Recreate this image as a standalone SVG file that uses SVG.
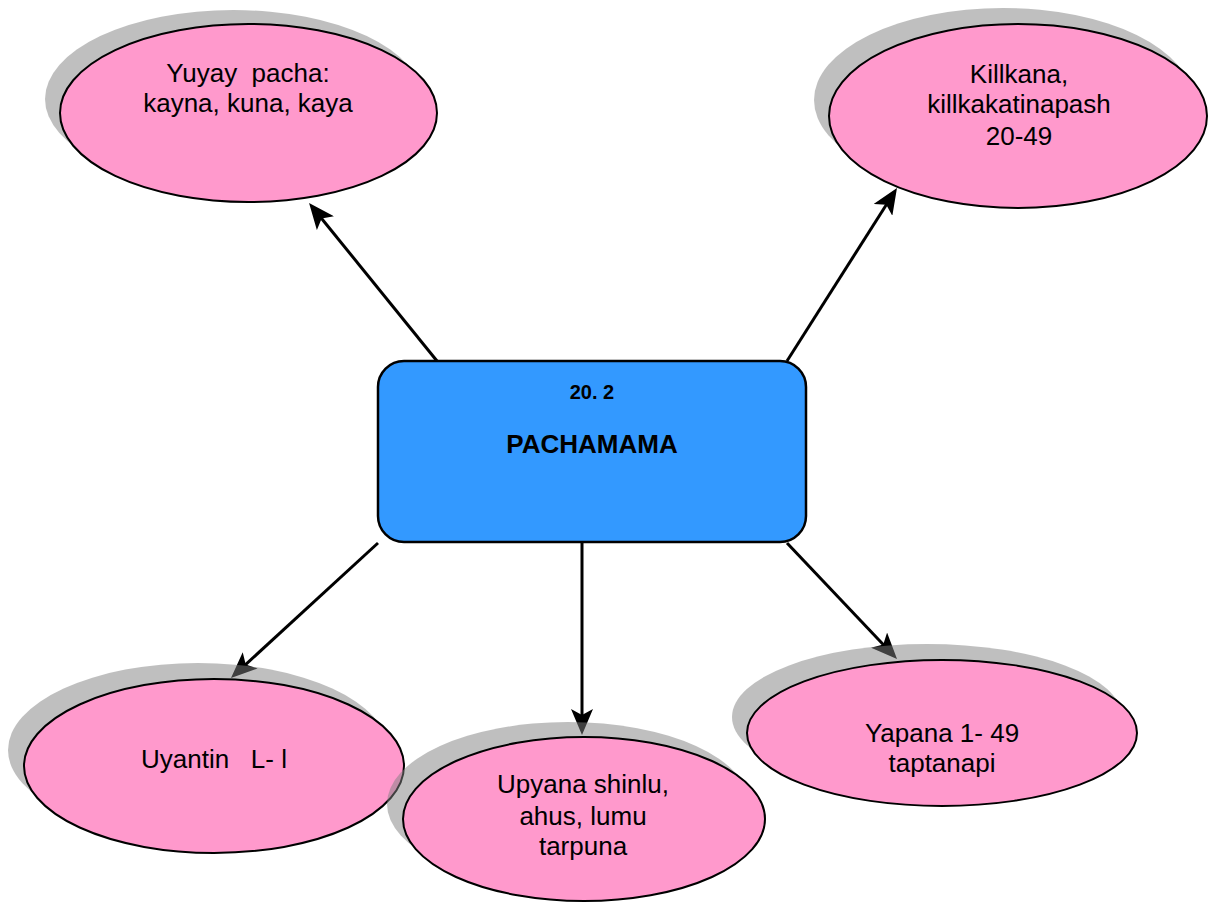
<svg xmlns="http://www.w3.org/2000/svg" width="1216" height="903" viewBox="0 0 1216 903">
<style>
.shadow{fill:#808080;fill-opacity:0.5;stroke:none}
.bubble{fill:#FF99CC;stroke:#000;stroke-width:2}
.lbl{font-family:"Liberation Sans",Arial,sans-serif;font-size:26px;fill:#000;text-anchor:middle}
.conn{stroke:#000;stroke-width:3;fill:none;marker-end:url(#ah)}
.box{fill:#3399FF;stroke:#000;stroke-width:2.5}
.bold{font-family:"Liberation Sans",Arial,sans-serif;font-weight:bold;fill:#000;text-anchor:middle}
</style>
<defs>
<marker id="ah" markerUnits="userSpaceOnUse" viewBox="0 -11 26 22" refX="18" refY="0" markerWidth="26" markerHeight="22" orient="auto">
<path d="M26,0 L0,-11 L6,0 L0,11 Z" fill="#000"/>
</marker>
</defs>
<rect width="1216" height="903" fill="#fff"/>
<g id="connectors">
<line class="conn" x1="437" y1="361" x2="314.1" y2="209.2"/>
<line class="conn" x1="787" y1="361" x2="892.7" y2="194.7"/>
<line class="conn" x1="378" y1="543" x2="236.9" y2="672.6"/>
<line class="conn" x1="582" y1="543" x2="582" y2="727"/>
<line class="conn" x1="787" y1="543" x2="891.5" y2="653.2"/>
</g>
<g id="center">
<rect class="box" x="378" y="361" width="428" height="181" rx="26" ry="26"/>
<text class="bold" x="592" y="399" font-size="20">20. 2</text>
<text class="bold" x="592" y="453" font-size="26">PACHAMAMA</text>
</g>
<g id="yuyay">
<ellipse class="shadow" cx="233.5" cy="99" rx="188.5" ry="89"/>
<ellipse class="bubble" cx="248.5" cy="113" rx="188.5" ry="89"/>
<text class="lbl" x="248" y="82" xml:space="preserve">Yuyay  pacha:</text>
<text class="lbl" x="248" y="112">kayna, kuna, kaya</text>
</g>
<g id="killkana">
<ellipse class="shadow" cx="1003" cy="100" rx="189" ry="92"/>
<ellipse class="bubble" cx="1018" cy="116" rx="189" ry="92"/>
<text class="lbl" x="1019" y="83">Killkana,</text>
<text class="lbl" x="1019" y="113">killkakatinapash</text>
<text class="lbl" x="1019" y="145">20-49</text>
</g>
<g id="uyantin">
<ellipse class="shadow" cx="198" cy="750" rx="190" ry="87"/>
<ellipse class="bubble" cx="214" cy="766" rx="190" ry="87"/>
<text class="lbl" x="214" y="768" xml:space="preserve">Uyantin   L- l</text>
</g>
<g id="upyana">
<ellipse class="shadow" cx="568" cy="804" rx="181" ry="82"/>
<ellipse class="bubble" cx="584" cy="819" rx="181" ry="82"/>
<text class="lbl" x="583" y="793">Upyana shinlu,</text>
<text class="lbl" x="583" y="825">ahus, lumu</text>
<text class="lbl" x="583" y="855">tarpuna</text>
</g>
<g id="yapana">
<ellipse class="shadow" cx="927" cy="717" rx="195" ry="73"/>
<ellipse class="bubble" cx="942" cy="733" rx="195" ry="73"/>
<text class="lbl" x="942" y="742">Yapana 1- 49</text>
<text class="lbl" x="942" y="772">taptanapi</text>
</g>
</svg>
